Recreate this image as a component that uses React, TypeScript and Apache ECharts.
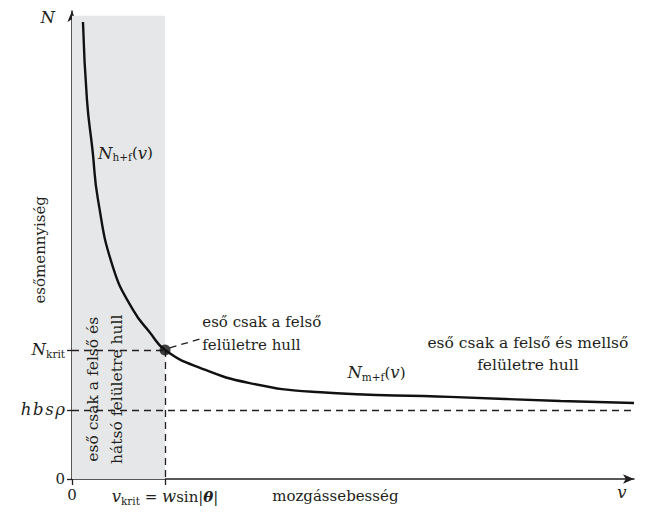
import React, { useEffect, useRef } from 'react';
import * as echarts from 'echarts';

// curve N(v): data (v in units of v_krit, N in units of hbsρ)
const curveV = [0.118, 0.161, 0.22, 0.28, 0.44, 0.656, 0.839, 1, 1.376, 1.91, 2.63, 4.06, 5.25, 6.04];
const curveN = [6.62, 5.49, 4.77, 4.04, 3.07, 2.45, 2.12, 1.87, 1.61, 1.39, 1.26, 1.19, 1.13, 1.1];

const V_KRIT = 1;
const N_KRIT = 1.87;
const HBS_RHO = 1;
const X_MAX = 6.04;
const Y_MAX = 6.78;
const SHADE_TOP = 6.71;
const yTickValues = [0, HBS_RHO, N_KRIT];
const xTickValues = [0, V_KRIT];

const FONT = 'DejaVu Serif';
const INK = '#231f20';
const FS = 15;
const FS_I = 16.5;

export default function App() {
  const ref = useRef<HTMLDivElement>(null);
  useEffect(() => {
    document.body.style.margin = '0';
    const chart = echarts.init(ref.current!, null, { renderer: 'svg' });
    const rich: any = {
      i: { fontStyle: 'italic', fontFamily: FONT, fontSize: FS_I, color: INK },
      r: { fontFamily: FONT, fontSize: FS, color: INK },
      sub: { fontFamily: FONT, fontSize: 10.5, color: INK, padding: [8, 0, 0, 0] },
      bi: { fontStyle: 'italic', fontWeight: 'bold', fontFamily: FONT, fontSize: FS, color: INK },
    };
    const near = (a: number, b: number) => Math.abs(a - b) < 1e-6;
    const dash = [7, 5];
    chart.setOption({
      animation: false,
      textStyle: { fontFamily: FONT },
      grid: { left: 72, right: 12, top: 11, bottom: 35, containLabel: false },
      xAxis: {
        type: 'value',
        min: 0,
        max: X_MAX,
        splitLine: { show: false },
        axisLine: {
          show: true,
          symbol: ['none', 'arrow'],
          symbolSize: [7, 11],
          lineStyle: { color: INK, width: 1.5 },
        },
        axisTick: { show: true, customValues: xTickValues, length: 6, inside: false, lineStyle: { color: INK, width: 1.3 } },
        axisLabel: {
          customValues: xTickValues,
          margin: 8,
          fontFamily: FONT,
          fontSize: FS,
          color: INK,
          rich,
          formatter: (v: number) =>
            near(v, 0) ? '{r|0}' : '{i|v}{sub|krit}{r| = }{i|w}{r|sin|}{bi|θ}{r||}',
        },
      },
      yAxis: {
        type: 'value',
        min: 0,
        max: Y_MAX,
        splitLine: { show: false },
        axisLine: {
          show: true,
          symbol: ['none', 'arrow'],
          symbolSize: [7, 11],
          lineStyle: { color: INK, width: 1.5 },
        },
        axisTick: { show: true, customValues: yTickValues, length: 5, inside: false, lineStyle: { color: INK, width: 1.3 } },
        axisLabel: {
          customValues: yTickValues,
          margin: 7,
          fontFamily: FONT,
          fontSize: FS,
          color: INK,
          rich,
          formatter: (v: number) =>
            near(v, 0) ? '{r|0}' : near(v, HBS_RHO) ? '{i|h\u200Ab\u200As\u200Aρ}' : '{i|N}{sub|krit}',
        },
      },
      series: [
        {
          type: 'line',
          data: curveV.map((v, k) => [v, curveN[k]]),
          smooth: 0.5,
          showSymbol: false,
          lineStyle: { color: '#111', width: 2.4 },
          z: 5,
          markArea: {
            silent: true,
            itemStyle: { color: '#e6e7e8' },
            data: [[{ coord: [0, 0] }, { coord: [V_KRIT, SHADE_TOP] }]],
          },
          markLine: {
            silent: true,
            symbol: 'none',
            label: { show: false },
            lineStyle: { color: INK, width: 1.3, type: dash },
            data: [
              [{ coord: [0, N_KRIT] }, { coord: [V_KRIT, N_KRIT] }],
              [{ coord: [V_KRIT, N_KRIT] }, { coord: [V_KRIT, 0] }],
              [{ coord: [0, HBS_RHO] }, { coord: [X_MAX, HBS_RHO] }],
              [{ coord: [1.05, 1.9] }, { coord: [1.38, 2.03] }],
            ],
          },
        },
        {
          type: 'scatter',
          data: [[V_KRIT, N_KRIT]],
          symbolSize: 11,
          itemStyle: { color: '#111' },
          z: 6,
        },
      ],
    });

    const p = (v: number, n: number) => chart.convertToPixel({ gridIndex: 0 }, [v, n]) as number[];
    const txt = (v: number, n: number, style: any, extra: any = {}) => {
      const [x, y] = p(v, n);
      return {
        type: 'text',
        x,
        y,
        z: 100,
        ...extra,
        style: { fontFamily: FONT, fontSize: FS, fill: INK, ...style },
      };
    };
    chart.setOption({
      graphic: [
        txt(-0.26, 6.68, { text: 'N', fontStyle: 'italic', fontSize: FS_I, align: 'center', verticalAlign: 'middle' }),
        txt(-0.344, 3.32, { text: 'esőmennyiség', align: 'center', verticalAlign: 'middle' }, { rotation: Math.PI / 2 }),
        txt(0.28, 4.72, { text: '{i|N}{sub|h+f}{r|(}{i|v}{r|)}', rich, align: 'left', verticalAlign: 'middle' }),
        txt(1.4, 2.11, { text: 'eső csak a felső\nfelületre hull', lineHeight: 23, align: 'left', verticalAlign: 'middle' }),
        txt(2.96, 1.54, { text: '{i|N}{sub|m+f}{r|(}{i|v}{r|)}', rich, align: 'left', verticalAlign: 'middle' }),
        txt(4.9, 1.81, { text: 'eső csak a felső és mellső\nfelületre hull', fontSize: 15.5, lineHeight: 22, align: 'center', verticalAlign: 'middle' }),
        txt(0.355, 1.3, { text: 'eső csak a felső és\nhátsó felületre hull', fontSize: 15.5, lineHeight: 24, align: 'center', verticalAlign: 'middle' }, { rotation: Math.PI / 2 }),
        txt(2.83, -0.246, { text: 'mozgássebesség', align: 'center', verticalAlign: 'middle' }),
        txt(5.91, -0.19, { text: 'v', fontStyle: 'italic', fontSize: FS_I, align: 'center', verticalAlign: 'middle' }),
      ],
    });
    return () => chart.dispose();
  }, []);
  return <div ref={ref} style={{ width: 646, height: 514 }} />;
}
